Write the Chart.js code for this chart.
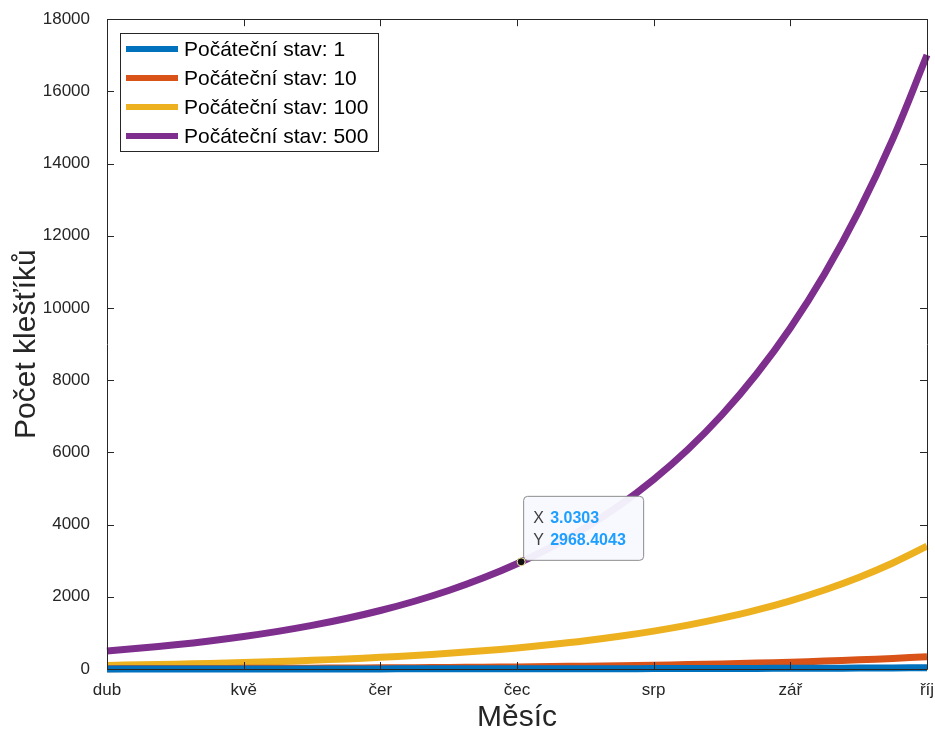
<!DOCTYPE html>
<html>
<head>
<meta charset="utf-8">
<script src="https://cdn.jsdelivr.net/npm/chart.js@4"></script>
<style>
  html, body { margin: 0; padding: 0; background: #fff; }
  #wrap { width: 935px; height: 733px; }
</style>
</head>
<body>
<div id="wrap"><canvas id="graf" width="935" height="733"></canvas></div>
<script>
// months on the x axis (0..6)
const mesice = ['dub', 'kvě', 'čer', 'čec', 'srp', 'zář', 'říj'];
const casy = [0, 0.25, 0.5, 0.75, 1, 1.25, 1.5, 1.75, 2, 2.25, 2.5, 2.75, 3, 3.25, 3.5, 3.75, 4, 4.25, 4.5, 4.75, 5, 5.25, 5.5, 5.75, 6];

const stav1 = [1, 1.2, 1.3, 1.6, 1.8, 2.1, 2.4, 2.8, 3.2, 3.8, 4.3, 5.0, 5.8, 6.8, 7.8, 9.1, 10.5, 12.2, 14.1, 16.3, 18.9, 21.9, 25.4, 29.4, 34];
const stav10 = [10, 12, 13, 16, 18, 21, 24, 28, 32, 38, 43, 50, 58, 68, 78, 91, 105, 122, 141, 163, 189, 219, 254, 294, 340];
const stav100 = [100, 116, 134, 155, 180, 208, 241, 280, 324, 375, 435, 504, 583, 676, 782, 906, 1050, 1216, 1409, 1631, 1890, 2189, 2535, 2937, 3401];
const stav500 = [500, 579, 671, 777, 900, 1042, 1207, 1398, 1620, 1877, 2174, 2518, 2916, 3378, 3912, 4532, 5249, 6080, 7043, 8157, 9448, 10944, 12676, 14683, 17007];

const popisky = ['Počáteční stav: 1', 'Počáteční stav: 10', 'Počáteční stav: 100', 'Počáteční stav: 500'];
const barvy = ['#0072BD', '#D95319', '#EDB120', '#7E2F8E'];

// data tip
const tipX = 3.0303;
const tipY = 2968.4043;

const pismo = '"Liberation Sans", Arial, sans-serif';
const body = (hodnoty) => casy.map((t, i) => ({ x: t, y: hodnoty[i] }));

const ramecek = {
  id: 'ramecek',
  afterDraw(chart) {
    const { ctx, chartArea: a, scales } = chart;
    ctx.save();
    ctx.strokeStyle = '#262626';
    ctx.lineWidth = 1;
    ctx.beginPath();
    ctx.rect(Math.round(a.left) + 0.5, Math.round(a.top) + 0.5, Math.round(a.right - a.left), Math.round(a.bottom - a.top));
    for (let i = 0; i <= 6; i++) {
      const px = Math.round(scales.x.getPixelForValue(i)) + 0.5;
      ctx.moveTo(px, a.bottom); ctx.lineTo(px, a.bottom - 7);
      ctx.moveTo(px, a.top); ctx.lineTo(px, a.top + 7);
    }
    for (let v = 0; v <= 18000; v += 2000) {
      const py = Math.round(scales.y.getPixelForValue(v)) + 0.5;
      ctx.moveTo(a.left, py); ctx.lineTo(a.left + 7, py);
      ctx.moveTo(a.right, py); ctx.lineTo(a.right - 7, py);
    }
    ctx.stroke();

    // legend
    const lx = 120, ly = 33, lw = 258, lh = 118;
    ctx.fillStyle = '#fff';
    ctx.fillRect(lx, ly, lw, lh);
    ctx.strokeStyle = '#262626';
    ctx.strokeRect(lx + 0.5, ly + 0.5, lw, lh);
    ctx.font = '21px ' + pismo;
    ctx.textBaseline = 'middle';
    chart.data.datasets.forEach((ds, i) => {
      const y = 49 + i * 29;
      ctx.strokeStyle = ds.borderColor;
      ctx.lineWidth = 6;
      ctx.beginPath();
      ctx.moveTo(126, y); ctx.lineTo(178, y);
      ctx.stroke();
      ctx.fillStyle = '#000';
      ctx.fillText(ds.label, 184, y + 1);
    });

    // data tip
    const px = scales.x.getPixelForValue(tipX);
    const py = scales.y.getPixelForValue(tipY);
    const bx = px + 2, by = py - 66, bw = 120, bh = 64;
    ctx.fillStyle = 'rgba(248,248,255,0.95)';
    ctx.strokeStyle = '#8c8c8c';
    ctx.lineWidth = 1;
    ctx.beginPath();
    ctx.roundRect(bx + 0.5, by + 0.5, bw, bh, 4);
    ctx.fill();
    ctx.stroke();
    ctx.font = '16px ' + pismo;
    ctx.fillStyle = '#404040';
    ctx.fillText('X', bx + 10, by + 23);
    ctx.fillText('Y', bx + 10, by + 45);
    ctx.font = 'bold 16px ' + pismo;
    ctx.fillStyle = '#1E9FFF';
    ctx.fillText(tipX.toFixed(4), bx + 27, by + 23);
    ctx.fillText(tipY.toFixed(4), bx + 27, by + 45);
    ctx.beginPath();
    ctx.arc(px, py, 4, 0, Math.PI * 2);
    ctx.fillStyle = '#111';
    ctx.fill();
    ctx.strokeStyle = '#f3e9a0';
    ctx.lineWidth = 1;
    ctx.stroke();
    ctx.restore();
  }
};

new Chart(document.getElementById('graf'), {
  type: 'line',
  data: {
    datasets: [stav1, stav10, stav100, stav500].map((s, i) => ({
      label: popisky[i],
      data: body(s),
      borderColor: barvy[i],
      backgroundColor: barvy[i],
      borderWidth: 7,
      pointRadius: 0,
      tension: 0.4,
      clip: 10
    }))
  },
  options: {
    responsive: false,
    animation: false,
    layout: { padding: { left: 0, top: 19, right: 8, bottom: 0 } },
    plugins: { legend: { display: false }, tooltip: { enabled: false } },
    scales: {
      x: {
        type: 'linear', min: 0, max: 6,
        grid: { display: false }, border: { display: false },
        ticks: {
          stepSize: 1, padding: 3, color: '#262626',
          font: { size: 17, family: pismo },
          callback: (v) => mesice[v]
        },
        title: {
          display: true, text: 'Měsíc', color: '#262626',
          font: { size: 30, family: pismo, lineHeight: 1 },
          padding: { top: 0, bottom: 0 }
        },
        afterFit: (s) => { s.height = 64; s.paddingRight = 8; s.paddingLeft = 0; }
      },
      y: {
        min: 0, max: 18000,
        grid: { display: false }, border: { display: false },
        ticks: {
          stepSize: 2000, padding: 9, color: '#262626',
          font: { size: 17, family: pismo },
          callback: (v) => String(v)
        },
        title: {
          display: true, text: 'Počet klešťíků', color: '#262626',
          font: { size: 30, family: pismo, lineHeight: 1 },
          padding: { top: 12, bottom: 0 }
        },
        afterFit: (s) => { s.width = 107; }
      }
    }
  },
  plugins: [ramecek]
});
</script>
</body>
</html>
